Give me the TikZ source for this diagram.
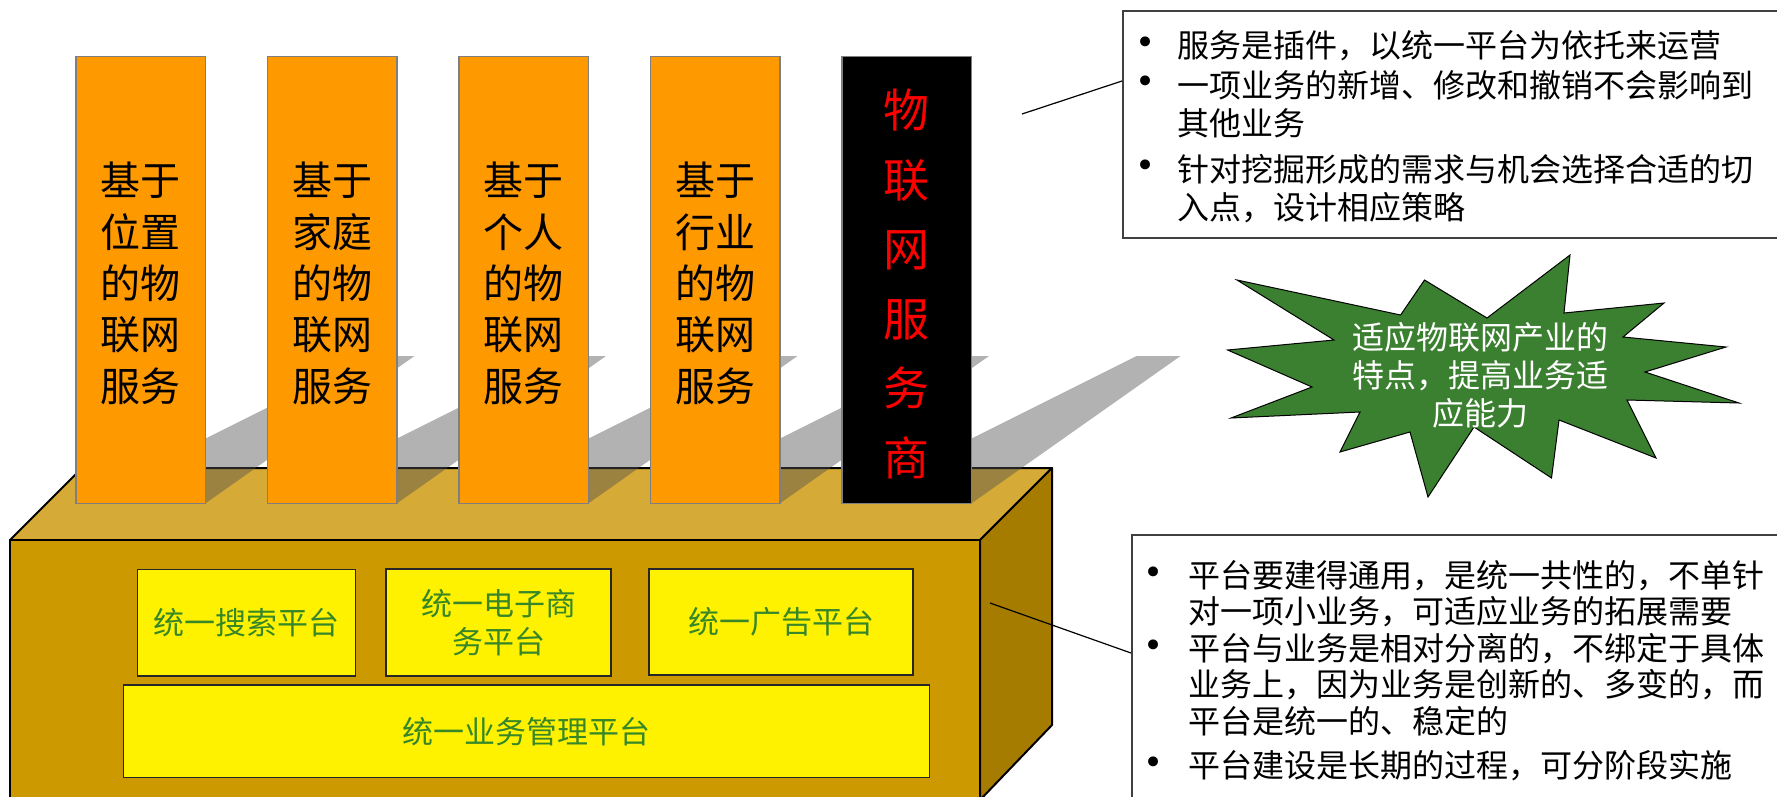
\documentclass[tikz,border=0pt]{standalone}
\usepackage{fontspec}
\setmainfont{Noto Sans CJK SC}
\newfontfamily\bulletfont{DejaVu Sans}
\definecolor{orangecol}{HTML}{FF9900}
\definecolor{colgray}{HTML}{7F7F7F}
\definecolor{goldfront}{RGB}{204,153,0}
\definecolor{goldtop}{RGB}{214,170,54}
\definecolor{goldside}{RGB}{166,124,0}
\definecolor{shadowc}{RGB}{80,80,80}
\definecolor{ytext}{RGB}{55,135,40}
\definecolor{burstgreen}{RGB}{59,128,48}
\begin{document}
\begin{tikzpicture}[x=1pt,y=-1pt,
  boxface/.style={draw=black, line width=2pt, line join=round},
  colbox/.style={draw=colgray, line width=1.3pt, fill=orangecol, minimum width=129.5pt, minimum height=446.6pt, inner sep=0pt},
  blackcol/.style={colbox, fill=black},
  coltext/.style={font=\fontsize{40}{51.3}\selectfont, align=center, inner sep=0pt, text=black},
  redtext/.style={font=\fontsize{46}{69.6}\selectfont, align=center, inner sep=0pt, text=red},
  ybox/.style={draw=black!85, line width=1.5pt, fill=yellow, text=ytext, font=\fontsize{31}{38}\selectfont, align=center, inner sep=0pt},
  tbox/.style={draw=black!75, line width=1.5pt, fill=white, inner sep=0pt, anchor=north west},
  tline/.style={font=\fontsize{32}{38}\selectfont, anchor=west, inner sep=0pt, text=black},
  bul/.style={font=\bulletfont\fontsize{34}{38}\selectfont, anchor=center, inner sep=0pt, text=black},
  conn/.style={draw=black, line width=1.2pt},
  bursttext/.style={font=\fontsize{32}{38}\selectfont, align=center, inner sep=0pt, text=white}
]
\useasboundingbox (0,0) rectangle (1777,796);

% platform box
\filldraw[boxface, fill=goldtop] (10,540) -- (82,468) -- (1052,468) -- (980,540) -- cycle;
\filldraw[boxface, fill=goldfront] (10,540) rectangle (980,800);
\filldraw[boxface, fill=goldside] (980,540) -- (1052,468) -- (1052,725) -- (980,800) -- cycle;

% shadows of the columns
\foreach \L in {76,267.5,459,650.5,842}{
  \fill[shadowc, opacity=0.44] (\L,503.3) -- ({\L+129.5},503.3) -- ({\L+338.5},356) -- ({\L+294.7},356) -- cycle;
}

% columns
\node[colbox] (c1) at (140.75,280) {};
\node[colbox] (c2) at (332.25,280) {};
\node[colbox] (c3) at (523.75,280) {};
\node[colbox] (c4) at (715.25,280) {};
\node[blackcol] (c5) at (906.75,280) {};
\node[coltext] (t1) at (140.75,283.4) {基于\\位置\\的物\\联网\\服务};
\node[coltext] (t2) at (332.25,283.4) {基于\\家庭\\的物\\联网\\服务};
\node[coltext] (t3) at (523.75,283.4) {基于\\个人\\的物\\联网\\服务};
\node[coltext] (t4) at (715.25,283.4) {基于\\行业\\的物\\联网\\服务};
\node[redtext] (t5) at (906.75,284) {物\\联\\网\\服\\务\\商};

% platforms
\node[ybox, minimum width=218.4pt, minimum height=106.7pt] (search) at (246.5,622.6) {统一搜索平台};
\node[ybox, minimum width=225pt, minimum height=107pt] (ecom) at (498.5,622.5) {统一电子商\\务平台};
\node[ybox, minimum width=264pt, minimum height=106pt] (ad) at (781,622) {统一广告平台};
\node[ybox, minimum width=806pt, minimum height=92.7pt] (mgmt) at (526.5,731.3) {统一业务管理平台};

% starburst
\filldraw[fill=burstgreen, draw=black, line width=1pt, line join=miter]
  (1570,255) -- (1564,313) -- (1664,303) -- (1623,337) -- (1726,347) -- (1645,372)
  -- (1739,403) -- (1627,400) -- (1656,458) -- (1559,420) -- (1551.5,478) -- (1474,427)
  -- (1428,497) -- (1410,432) -- (1340,452) -- (1360,412) -- (1231,418) -- (1312,387)
  -- (1227.6,350) -- (1334,340) -- (1237,280) -- (1400.6,315) -- (1424.5,280) -- (1487,318) -- cycle;
\node[bursttext] (burst) at (1480,375) {适应物联网产业的\\特点，提高业务适\\应能力};

% top text box
\node[tbox, minimum width=680pt, minimum height=227.3pt] (tb1) at (1122,10) {};
\node[bul] (b11) at (1146,46) {•};
\node[tline] (l11) at (1177.5,46) {服务是插件，以统一平台为依托来运营};
\node[bul] (b12) at (1146,85) {•};
\node[tline] (l12) at (1177.5,85) {一项业务的新增、修改和撤销不会影响到};
\node[tline] (l13) at (1177.5,123.5) {其他业务};
\node[bul] (b13) at (1146,169) {•};
\node[tline] (l14) at (1177.5,169) {针对挖掘形成的需求与机会选择合适的切};
\node[tline] (l15) at (1177.5,208) {入点，设计相应策略};

% bottom text box
\node[tbox, minimum width=680pt, minimum height=300pt] (tb2) at (1131,534) {};
\node[bul] (b21) at (1154,576) {•};
\node[tline] (l21) at (1188,576) {平台要建得通用，是统一共性的，不单针};
\node[tline] (l22) at (1188,612) {对一项小业务，可适应业务的拓展需要};
\node[bul] (b22) at (1154,649) {•};
\node[tline] (l23) at (1188,649) {平台与业务是相对分离的，不绑定于具体};
\node[tline] (l24) at (1188,685) {业务上，因为业务是创新的、多变的，而};
\node[tline] (l25) at (1188,721) {平台是统一的、稳定的};
\node[bul] (b23) at (1154,766) {•};
\node[tline] (l26) at (1188,766) {平台建设是长期的过程，可分阶段实施};

% connectors
\coordinate (p1) at (1022,114);
\coordinate (q1) at (1122,81);
\draw[conn] (p1) -- (q1);
\coordinate (p2) at (990,603);
\coordinate (q2) at (1131,653);
\draw[conn] (p2) -- (q2);
\end{tikzpicture}
\end{document}
